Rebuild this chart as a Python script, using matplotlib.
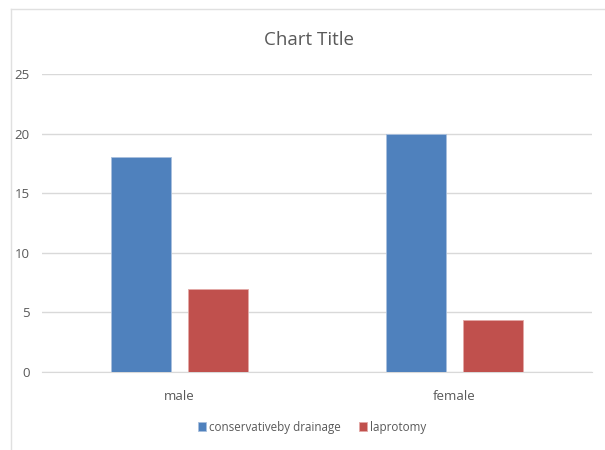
import numpy as np
import matplotlib
matplotlib.use("Agg")
import matplotlib.pyplot as plt
from matplotlib.lines import Line2D

# data
categories = ["male", "female"]
series_names = ["conservativeby drainage", "laprotomy"]
conservative = [18, 20]
laprotomy = [7, 4.4]
y_ticks = [0, 5, 10, 15, 20, 25]

blue = "#4F81BD"
red = "#C0504D"
text_col = "#595959"
grid_col = "#D9D9D9"

plt.rcParams["font.family"] = ["Open Sans", "DejaVu Sans"]

fig = plt.figure(figsize=(6.05, 4.5), dpi=100)
W, H = 605, 450

# chart border (only left/top visible in the crop)
fig.add_artist(Line2D([11 / W, 11 / W], [0, 1 - 9 / H], color="#E0E0E0", lw=1))
fig.add_artist(Line2D([11 / W, 1], [1 - 9 / H, 1 - 9 / H], color="#E0E0E0", lw=1))

ax = fig.add_axes([42 / W, 1 - 372 / H, (592 - 42) / W, (372 - 74) / H])

x = np.arange(len(categories))
width = 0.22
offset = 0.14
ax.bar(x - offset, conservative, width, color=blue, edgecolor="#A9C0DE", linewidth=0.6,
       label=series_names[0], zorder=3)
ax.bar(x + offset, laprotomy, width, color=red, edgecolor="#E3A9A7", linewidth=0.6,
       label=series_names[1], zorder=3)

ax.set_xlim(-0.5, 1.5)
ax.set_ylim(0, 25)
ax.set_yticks(y_ticks)
ax.set_xticks(x)
ax.set_xticklabels(categories)
ax.yaxis.grid(True, color=grid_col, linewidth=1, zorder=0)
ax.tick_params(axis="both", length=0, labelsize=9.5, colors=text_col)
ax.tick_params(axis="y", pad=9)
ax.tick_params(axis="x", pad=13)
for s in ["top", "right", "left"]:
    ax.spines[s].set_visible(False)
ax.spines["bottom"].set_color(grid_col)

fig.text(309 / W, 1 - 40 / H, "Chart Title", ha="center", va="center",
         fontsize=13.5, color=text_col)

fig.legend(loc="center", bbox_to_anchor=(312 / W, 1 - 427 / H), ncol=2, frameon=False,
           fontsize=8.4, handlelength=0.7, handleheight=0.7, handletextpad=0.2,
           columnspacing=1.6, labelcolor=text_col)

fig.savefig("out.png", dpi=100, facecolor="white")
